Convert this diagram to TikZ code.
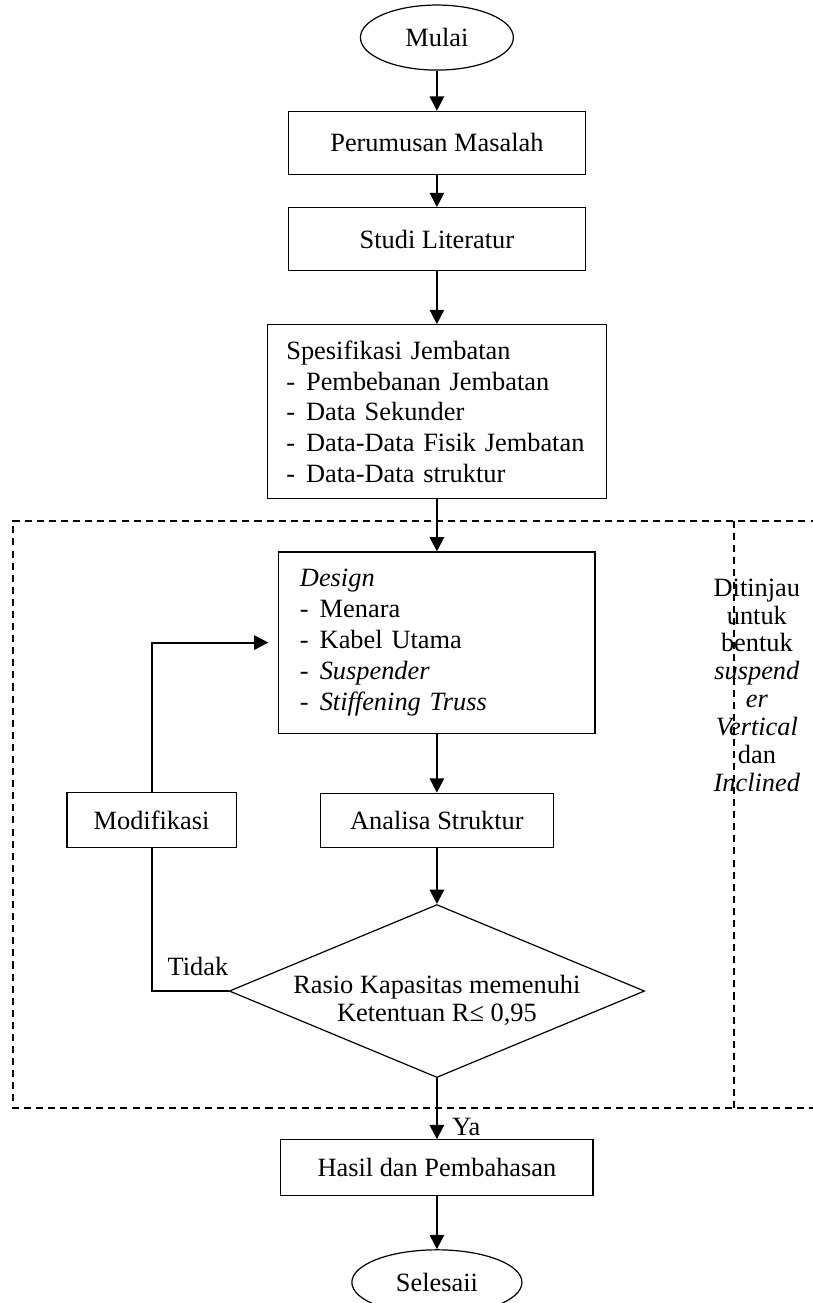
\documentclass[tikz,border=0pt]{standalone}
\usepackage{fontspec}
\setmainfont{Liberation Serif}
\usetikzlibrary{arrows.meta,positioning,shapes.geometric}
\newcommand{\dashitem}{\makebox[9pt][l]{-}}

\begin{document}
\begin{tikzpicture}[>={Triangle[length=6.5pt,width=6.5pt]}, node distance=15pt,
  font=\fontsize{12}{14}\selectfont,
  box/.style={draw, line width=0.55pt, inner sep=3pt},
  lst/.style={box, align=left, inner xsep=9.6pt},
  term/.style={draw, ellipse, line width=0.55pt, inner sep=0pt},
  dec/.style={draw, diamond, aspect=2.4, inner xsep=0pt, inner ysep=-8pt, text height=29.2pt,
    minimum width=189pt, minimum height=78.7pt, line width=0.55pt, align=center, font=\fontsize{12}{12.7}\selectfont},
  arr/.style={->, line width=0.9pt},
  frame/.style={line width=0.6pt, dash pattern=on 3.2pt off 2.3pt}]
\useasboundingbox (0,0) rectangle (369.9pt,-592.9pt);
\node[term, minimum width=69.6pt, minimum height=29.6pt] (mulai) at (198.8pt,-17.1pt) {Mulai};
\node[box, minimum width=135pt, minimum height=28.7pt, below=18.2pt of mulai] (rumus) {Perumusan Masalah};
\node[box, minimum width=135pt, minimum height=28.7pt, below=14.6pt of rumus] (studi) {Studi Literatur};
\node[lst, text width=137pt, inner xsep=8.6pt, minimum height=79.2pt, below=24pt of studi] (spek) {Spesifikasi Jembatan\\
  \dashitem Pembebanan Jembatan\\
  \dashitem Data Sekunder\\
  \dashitem Data-Data Fisik Jembatan\\
  \dashitem Data-Data struktur};
\node[lst, text width=124.6pt, minimum height=82.4pt, below=23.7pt of spek] (desain) {\textit{Design}\\
  \dashitem Menara\\
  \dashitem Kabel Utama\\
  \dashitem \textit{Suspender}\\
  \dashitem \textit{Stiffening Truss}};
\node[box, minimum width=106pt, minimum height=24.6pt, below=26.8pt of desain] (analisa) {Analisa Struktur};
\node[dec, below=25.5pt of analisa] (rasio) {Rasio Kapasitas memenuhi\\Ketentuan R≤ 0,95};
\node[box, minimum width=142pt, minimum height=25.5pt, below=27.8pt of rasio] (hasil) {Hasil dan Pembahasan};
\node[term, minimum width=77.4pt, minimum height=29.6pt, below=24pt of hasil] (selesai) {Selesaii};
\node[box, minimum width=77pt, minimum height=25pt, left=37.8pt of analisa] (modif) {Modifikasi};
% dashed frame round the design loop
\draw[frame] (372pt,-237.1pt) -| (5.9pt,-504.1pt) -- (372pt,-504.1pt);
\draw[frame] (334pt,-237.1pt) -- (334pt,-504.1pt);
\node[anchor=north, align=center, inner sep=0pt, font=\fontsize{12}{12.7}\selectfont] (tinjau) at (344.4pt,-263.1pt)
  {Ditinjau\\untuk\\bentuk\\\textit{suspend}\\\textit{er}\\\textit{Vertical}\\dan\\\textit{Inclined}};
\node[anchor=base east, inner sep=0pt] (tidak) at ([yshift=7.3pt]rasio.west) {Tidak};
\node[anchor=base west, inner sep=0pt] (ya) at ([xshift=6.8pt,yshift=1.8pt]hasil.north) {Ya};
\draw[arr] (mulai) -- (rumus);
\draw[arr] (rumus) -- (studi);
\draw[arr] (studi) -- (spek);
\draw[arr] (spek) -- (desain);
\draw[arr] (desain) -- (analisa);
\draw[arr] (analisa) -- (rasio);
\draw[arr] (rasio) -- (hasil);
\draw[arr] (hasil) -- (selesai);
\draw[arr, shorten >=4.5pt] (modif.north) |- (desain.west);
\draw[line width=0.9pt] (rasio.west) -| (modif.south);
\end{tikzpicture}
\end{document}
